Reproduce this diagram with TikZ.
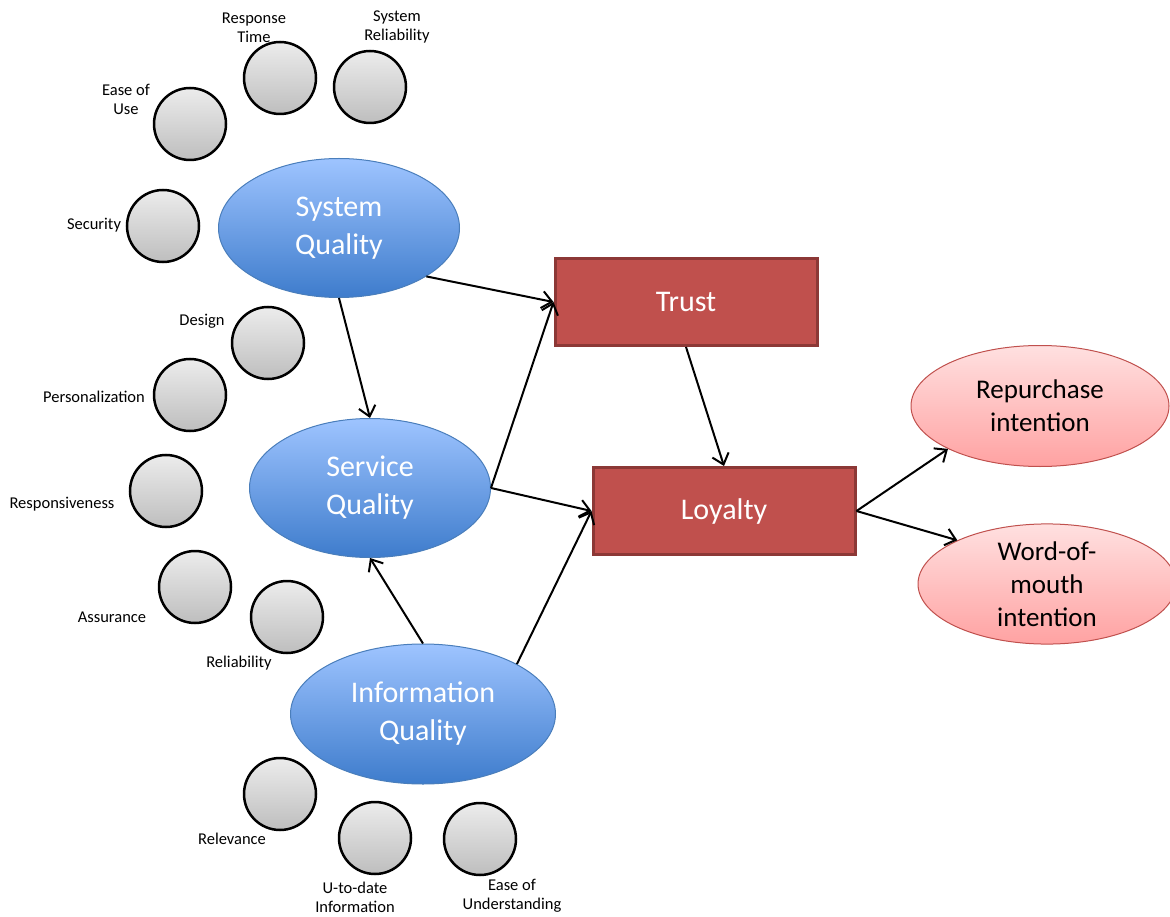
\documentclass[tikz,border=0pt]{standalone}
\usepackage{fontspec}
\setmainfont{Carlito}
\usepackage{tikz}
\usetikzlibrary{arrows.meta,positioning,shapes}
\definecolor{qualtop}{RGB}{158,196,255}
\definecolor{qualbot}{RGB}{62,124,204}
\definecolor{qualline}{RGB}{74,126,187}
\definecolor{boxfill}{RGB}{192,80,77}
\definecolor{boxline}{RGB}{140,56,54}
\definecolor{outtop}{RGB}{255,224,224}
\definecolor{outbot}{RGB}{255,162,162}
\definecolor{outline}{RGB}{192,80,77}
\definecolor{facettop}{RGB}{236,236,236}
\definecolor{facetbot}{RGB}{190,190,190}

\begin{document}
\begin{tikzpicture}[x=1pt,y=-1pt,
    facet/.style={circle,draw,line width=2.5pt,minimum size=72pt,inner sep=0pt,top color=facettop,bottom color=facetbot},
    lbl/.style={align=center,inner sep=0pt,font=\fontsize{16.5}{19}\selectfont},
    qual/.style={ellipse,draw=qualline,line width=1pt,top color=qualtop,bottom color=qualbot,text=white,align=center,inner sep=0pt,font=\fontsize{30}{38}\selectfont},
    box/.style={rectangle,draw=boxline,line width=3pt,fill=boxfill,text=white,minimum width=262pt,minimum height=87pt,font=\fontsize{30}{35}\selectfont},
    outc/.style={ellipse,draw=outline,line width=1pt,top color=outtop,bottom color=outbot,align=center,inner sep=0pt,minimum width=258pt,font=\fontsize{27}{33}\selectfont},
    link/.style={-{Straight Barb[length=10pt,width=17pt]},line width=2pt}]
    \useasboundingbox (0,0) rectangle (1170,917);

    % Constructs
    \node[qual,minimum width=241pt,minimum height=139pt] (sysq) at (339,228) {System\\Quality};
    \node[qual,minimum width=241pt,minimum height=139pt] (servq) at (370,488) {Service\\Quality};
    \node[qual,minimum width=265pt,minimum height=140pt] (infoq) at (423,714) {Information\\Quality};
    \node[box] (trust) at (686,302) {Trust};
    \node[box] (loyal) at (724,511) {Loyalty};
    \node[outc,minimum height=121pt] (repur) at (1040,406) {Repurchase\\intention};
    \node[outc,minimum height=118pt] (wom) at (1047,584) {Word-of-\\mouth\\intention};

    % Dimensions
    \node[facet] (resp) at (280,78) {};
    \node[facet] (sysrel) at (370,87) {};
    \node[facet] (ease) at (190,124) {};
    \node[facet] (secur) at (163,226) {};
    \node[facet] (design) at (268,343) {};
    \node[facet] (perso) at (190,395) {};
    \node[facet] (respon) at (166,491) {};
    \node[facet] (assur) at (195,587) {};
    \node[facet] (relia) at (287,617) {};
    \node[facet] (relev) at (280,794) {};
    \node[facet] (uptodate) at (375,838) {};
    \node[facet] (easeund) at (480,839) {};

    \node[lbl] (respl) at (254,28) {Response\\Time};
    \node[lbl] (sysrell) at (397,27) {System\\Reliability};
    \node[lbl] (easel) at (126,99) {Ease of\\Use};
    \node[lbl] (securl) at (94,225) {Security};
    \node[lbl] (designl) at (202,321) {Design};
    \node[lbl] (persol) at (94,397) {Personalization};
    \node[lbl] (responl) at (62,504) {Responsiveness};
    \node[lbl] (assurl) at (112,617) {Assurance};
    \node[lbl] (relial) at (239,663) {Reliability};
    \node[lbl] (relevl) at (232,839) {Relevance};
    \node[lbl] (uptodatel) at (355,897) {U-to-date\\Information};
    \node[lbl] (easeundl) at (512,896) {Ease of\\Understanding};

    \draw[link] (sysq.-29) -- (trust.west);
    \draw[link] (sysq.south) -- (servq.north);
    \draw[link] (servq.east) -- (trust.west);
    \draw[link] (servq.east) -- (loyal.west);
    \draw[link] (infoq.28) -- (loyal.west);
    \draw[link] (infoq.north) -- (servq.south);
    \draw[link] (trust.south) -- (loyal.north);
    \draw[link] (loyal.east) -- (repur.205);
    \draw[link] (loyal.east) -- (wom.154);
\end{tikzpicture}
\end{document}
